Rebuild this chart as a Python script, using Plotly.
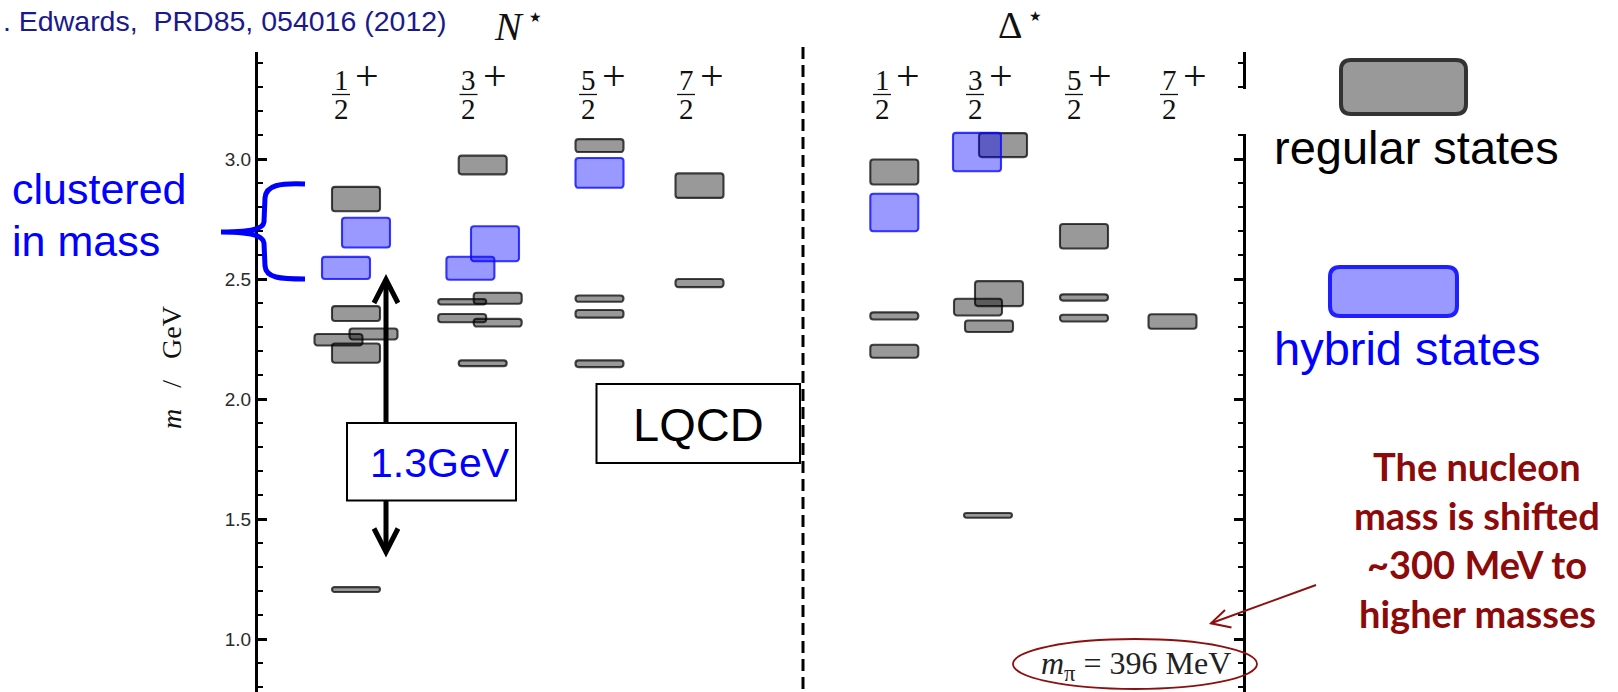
import plotly.graph_objects as go

W, H = 1618, 692

# ---------------- spectrum data ----------------
# each state: column, horizontal shift inside the column, mass (GeV), half-width (GeV)
columns = ["N 1/2+", "N 3/2+", "N 5/2+", "N 7/2+", "D 1/2+", "D 3/2+", "D 5/2+", "D 7/2+"]
numerators = ["1", "3", "5", "7", "1", "3", "5", "7"]

regular_col = ["N 1/2+"] * 6 + ["N 3/2+"] * 6 + ["N 5/2+"] * 4 + ["N 7/2+"] * 2 + \
              ["D 1/2+"] * 3 + ["D 3/2+"] * 5 + ["D 5/2+"] * 3 + ["D 7/2+"]
regular_shift = [0, 0, 17.5, -17.5, 0, 0,
                 0, 15, -20.5, -20.5, 15, 0,
                 0, 0, 0, 0,
                 0, 0,
                 0, 0, 0,
                 15, 11, -10, 1, 0,
                 0, 0, 0,
                 0]
regular_mass = [2.833, 2.356, 2.271, 2.247, 2.191, 1.206,
                2.975, 2.420, 2.405, 2.337, 2.318, 2.149,
                3.056, 2.418, 2.355, 2.147,
                2.889, 2.483,
                2.946, 2.346, 2.199,
                3.058, 2.439, 2.383, 2.303, 1.515,
                2.678, 2.423, 2.337,
                2.323]
regular_err = [0.051, 0.031, 0.023, 0.024, 0.040, 0.010,
               0.039, 0.023, 0.011, 0.017, 0.016, 0.012,
               0.027, 0.013, 0.016, 0.014,
               0.051, 0.017,
               0.052, 0.015, 0.027,
               0.050, 0.052, 0.035, 0.024, 0.010,
               0.051, 0.013, 0.014,
               0.030]

hybrid_col = ["N 1/2+", "N 1/2+", "N 3/2+", "N 3/2+", "N 5/2+", "D 1/2+", "D 3/2+"]
hybrid_shift = [10, -10, 12.3, -12.3, 0, 0, -11]
hybrid_mass = [2.693, 2.546, 2.647, 2.545, 2.942, 2.777, 3.029]
hybrid_err = [0.062, 0.046, 0.073, 0.048, 0.062, 0.078, 0.080]

y_ticks = [1.0, 1.5, 2.0, 2.5, 3.0]

# ---------------- layout geometry (pixels) ----------------
col_x = {"N 1/2+": 356, "N 3/2+": 482.7, "N 5/2+": 599.5, "N 7/2+": 699.5,
         "D 1/2+": 894.3, "D 3/2+": 988, "D 5/2+": 1084, "D 7/2+": 1172.5}
label_x = {"N 1/2+": 341, "N 3/2+": 468.5, "N 5/2+": 588, "N 7/2+": 686,
           "D 1/2+": 882, "D 3/2+": 975, "D 5/2+": 1074, "D 7/2+": 1169}
AX_L, AX_R, AX_TOP = 258, 1243, 52
PX_PER_GEV = 240
M_AT_3 = 159  # pixel row of the 3.0 GeV tick
y_top = 3.0 + (M_AT_3 - AX_TOP) / PX_PER_GEV
y_bot = 3.0 - (H - M_AT_3) / PX_PER_GEV
BOX_W = 48


def px(x):
    return x / W


def py(y):
    return 1 - y / H


def bars(cols, shifts, mass, err, fill, edge):
    return go.Bar(
        x=[col_x[c] + s for c, s in zip(cols, shifts)],
        y=[2 * e for e in err],
        base=[m - e for m, e in zip(mass, err)],
        width=BOX_W,
        marker=dict(color=fill, line=dict(color=edge, width=2.1), cornerradius=3),
        hoverinfo="skip",
        showlegend=False,
        cliponaxis=False,
    )


fig = go.Figure()
fig.add_trace(bars(regular_col, regular_shift, regular_mass, regular_err,
                   "rgba(0,0,0,0.4)", "rgba(0,0,0,0.72)"))
fig.add_trace(bars(hybrid_col, hybrid_shift, hybrid_mass, hybrid_err,
                   "rgba(0,0,255,0.4)", "rgba(10,10,255,0.8)"))

shapes = []
ann = []


def line(x0, y0, x1, y1, color="black", width=2, dash=None):
    d = dict(type="line", xref="paper", yref="paper",
             x0=px(x0), y0=py(y0), x1=px(x1), y1=py(y1),
             line=dict(color=color, width=width))
    if dash:
        d["line"]["dash"] = dash
    shapes.append(d)


def polyline(pts, color="black", width=2):
    path = "M " + " L ".join(f"{px(x):.5f},{py(y):.5f}" for x, y in pts)
    shapes.append(dict(type="path", xref="paper", yref="paper", path=path,
                       line=dict(color=color, width=width)))


def rect(x0, y0, x1, y1, color="black", width=2, fill="white"):
    shapes.append(dict(type="rect", xref="paper", yref="paper",
                       x0=px(x0), y0=py(y0), x1=px(x1), y1=py(y1),
                       line=dict(color=color, width=width), fillcolor=fill))


def rounded_rect(x0, y0, x1, y1, r, color, width, fill):
    p = lambda x, y: f"{px(x):.5f},{py(y):.5f}"
    path = (f"M {p(x0 + r, y0)} L {p(x1 - r, y0)} Q {p(x1, y0)} {p(x1, y0 + r)} "
            f"L {p(x1, y1 - r)} Q {p(x1, y1)} {p(x1 - r, y1)} "
            f"L {p(x0 + r, y1)} Q {p(x0, y1)} {p(x0, y1 - r)} "
            f"L {p(x0, y0 + r)} Q {p(x0, y0)} {p(x0 + r, y0)} Z")
    shapes.append(dict(type="path", xref="paper", yref="paper", path=path,
                       line=dict(color=color, width=width), fillcolor=fill))


def text(x, y, s, size, color="black", family="Liberation Sans", xanchor="center",
         yanchor="middle", angle=0):
    ann.append(dict(x=px(x), y=py(y), xref="paper", yref="paper", text=s,
                    showarrow=False, xanchor=xanchor, yanchor=yanchor, textangle=angle,
                    font=dict(size=size, color=color, family=family)))


# spin-parity column labels
for c, num in zip(columns, numerators):
    lx = label_x[c]
    text(lx, 80, num, 29, "#111", "Liberation Serif")
    text(lx, 109, "2", 29, "#111", "Liberation Serif")
    line(lx - 9, 94.5, lx + 9, 94.5, "#111", 1.3)
    text(lx + 26, 76, "+", 42, "#111", "Liberation Serif")

# panel titles
text(509, 26, "<i>N</i>", 40, "#111", "Liberation Serif")
text(535, 17, "★", 14, "#111", "DejaVu Sans")
text(1010, 25, "Δ", 38, "#111", "Liberation Serif")
text(1035, 16, "★", 14, "#111", "DejaVu Sans")

# citation
text(1, 21, ". Edwards,  PRD85, 054016 (2012)", 28.5, "#1a1a8c", xanchor="left")

# axis title
text(172, 368, "<i>m</i>\u00a0\u00a0\u00a0/\u00a0\u00a0\u00a0GeV",
     28, "#111", "Liberation Serif", angle=-90)

# double arrow spanning the gap
line(386, 282, 386, 549, "black", 5)
polyline([(374, 303), (386, 279.5), (398, 303)], "black", 5)
polyline([(374, 528.5), (386, 552), (398, 528.5)], "black", 5)
rect(347, 423, 516, 500.5)
text(440, 463, "1.3GeV", 41, "#0000ff")

# LQCD label and panel divider
rect(596.5, 384, 800, 463)
text(698, 424, "LQCD", 47, "black")
line(803, 47, 803, H, "black", 3, "12px,6px")

# "clustered in mass" brace
P = lambda x, y: f"{px(x):.5f},{py(y):.5f}"
path = (f"M {P(305, 184)} C {P(280, 183)} {P(266, 185)} {P(265, 198)} "
        f"L {P(264, 222)} C {P(263, 230)} {P(248, 232)} {P(221, 232)} "
        f"C {P(248, 232)} {P(263, 235)} {P(264, 243)} "
        f"L {P(265, 266)} C {P(266, 278)} {P(280, 279)} {P(305, 279)}")
shapes.append(dict(type="path", xref="paper", yref="paper", path=path,
                   line=dict(color="#0000ff", width=5)))
text(10, 189, "clustered", 43, "#0000ff", xanchor="left")
text(10, 241, "in mass", 43, "#0000ff", xanchor="left")

# legend swatches
rect(1233, 89, 1252, 134, "white", 0, "white")
rounded_rect(1341, 60, 1466, 114, 10, "#333333", 4, "#999999")
text(1272, 147, "regular states", 47, "black", xanchor="left")
rounded_rect(1330, 267, 1457, 316, 10, "#2020ff", 4, "#9999ff")
text(1272, 348, "hybrid states", 47, "#0000ff", xanchor="left")

# pion mass note and comment
shapes.append(dict(type="circle", xref="paper", yref="paper",
                   x0=px(1013), x1=px(1257), y0=py(639), y1=py(689),
                   line=dict(color="#8c1010", width=1.8)))
text(1136, 665, "<i>m</i><sub>π</sub> = 396 MeV", 32, "#222", "Liberation Serif")
line(1316, 585, 1211, 623.3, "#8c1010", 2)
polyline([(1225, 610), (1211, 623.3), (1231.5, 627.5)], "#8c1010", 2)
for yy, s in zip([466, 515, 564, 613],
                 ["The nucleon", "mass is shifted", "~300 MeV to", "higher masses"]):
    text(1477, yy, f"<b>{s}</b>", 38, "#8c0a0a", "Lato")

fig.update_layout(
    width=W, height=H,
    margin=dict(l=0, r=0, t=0, b=0),
    paper_bgcolor="white", plot_bgcolor="white",
    barmode="overlay",
    shapes=shapes, annotations=ann,
    xaxis=dict(domain=[px(AX_L), px(AX_R)], range=[AX_L, AX_R], visible=False, fixedrange=True),
    yaxis=dict(domain=[0, py(AX_TOP)], range=[y_bot, y_top],
               showline=True, linewidth=3, linecolor="black", mirror="ticks",
               ticks="inside", ticklen=9, tickwidth=2.5, tickcolor="black",
               tickvals=y_ticks, ticktext=[f"{v:.1f}" for v in y_ticks],
               tickfont=dict(family="Liberation Sans", size=19, color="#2a2a2a"),
               showgrid=False, zeroline=False, fixedrange=True,
               minor=dict(ticks="inside", ticklen=5, tickwidth=2, tickcolor="black",
                          dtick=0.1, tick0=0.0, showgrid=False)),
    showlegend=False,
)

fig.write_html("out.html")
